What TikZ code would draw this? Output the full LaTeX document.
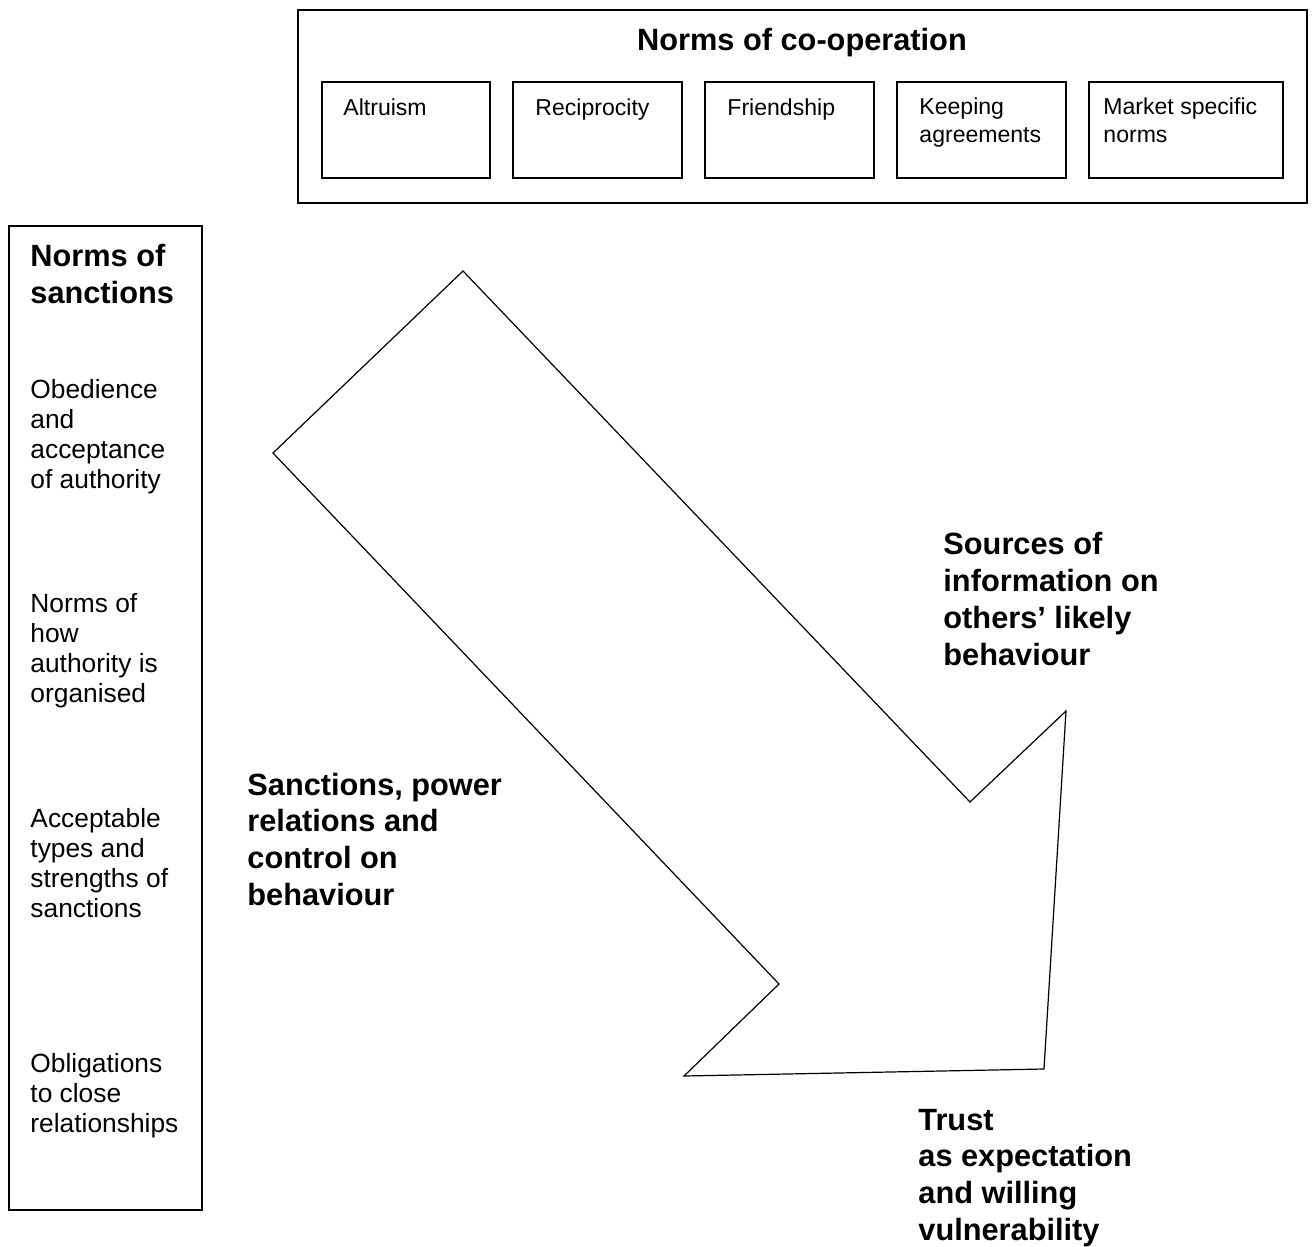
\documentclass[tikz,border=0pt]{standalone}
\usepackage{fontspec}
\setmainfont{Liberation Sans}

\begin{document}
\begin{tikzpicture}[x=0.016cm,y=-0.016cm,
  box/.style={draw,line width=0.7pt},
  txt/.style={inner sep=0pt,anchor=base west,align=left,font=\fontsize{12}{13.65}\selectfont},
  small/.style={inner sep=0pt,anchor=base west,align=left,font=\fontsize{10.5}{12.3}\selectfont},
  head/.style={inner sep=0pt,anchor=base west,align=left,font=\fontsize{14}{16.7}\selectfont\bfseries}]
\useasboundingbox (0,0) rectangle (1314,1247);

% norms of co-operation (text nodes sit on the baseline of their last line)
\draw[box] (298,10) rectangle (1307,203);
\node[head,anchor=base] (coop) at (802,50) {Norms of co-operation};
\foreach \xa/\xb in {322/490,513/682,705/874,897/1066,1089/1283}
  \draw[box] (\xa,82) rectangle (\xb,178);
\node[small] (altruism) at (343,115) {Altruism};
\node[small] (reciprocity) at (535,115) {Reciprocity};
\node[small] (friendship) at (727,115) {Friendship};
\node[small] (agreements) at (919,142) {Keeping\\agreements};
\node[small] (market) at (1103,142) {Market specific\\norms};

% norms of sanctions
\draw[box] (9,226) rectangle (202,1210);
\node[head] (sanctions) at (30,303) {Norms of\\sanctions};
\node[txt] (obedience) at (30,488) {Obedience\\and\\acceptance\\of authority};
\node[txt] (authority) at (30,702) {Norms of\\how\\authority is\\organised};
\node[txt] (strengths) at (30,917) {Acceptable\\types and\\strengths of\\sanctions};
\node[txt] (obligations) at (30,1132) {Obligations\\to close\\relationships};

% big arrow
\draw[line width=0.55pt] (463,271) -- (273,453) -- (779,984) -- (684,1076)
  -- (1044,1069) -- (1066,711) -- (970,802) -- cycle;

\node[head] (sources) at (943,665) {Sources of\\information on\\others’ likely\\behaviour};
\node[head] (power) at (247,905) {Sanctions, power\\relations and\\control on\\behaviour};
\node[head] (trust) at (918,1240) {Trust\\as expectation\\and willing\\vulnerability};
\end{tikzpicture}
\end{document}
